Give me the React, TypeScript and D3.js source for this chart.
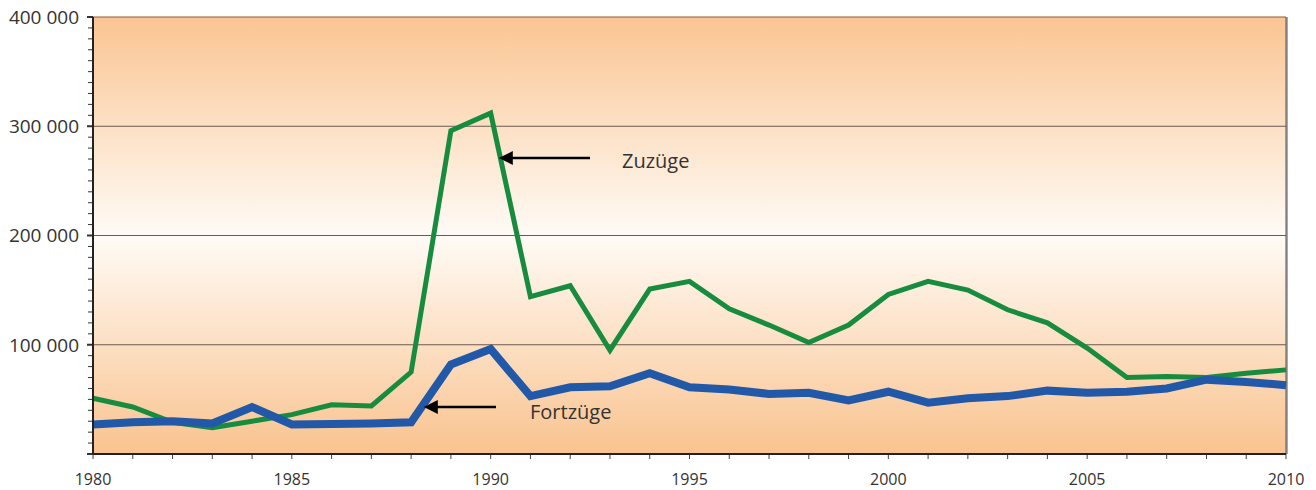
import { line, range, scaleLinear } from 'd3';

const years: number[] = range(1980, 2011);

const zuzuege: number[] = [
  51000, 43000, 29000, 24000, 30000, 36000, 45000, 44000, 75000, 296000,
  312000, 144000, 154000, 95000, 151000, 158000, 133000, 118000, 102000, 118000,
  146000, 158000, 150000, 132000, 120000, 97000, 70000, 71000, 70000, 74000, 77000,
];

const fortzuege: number[] = [
  27000, 29000, 30000, 28000, 43000, 27000, 27500, 28000, 29000, 82000,
  96000, 53000, 61000, 62000, 74000, 61000, 59000, 55000, 56000, 49000,
  57000, 47000, 51000, 53000, 58000, 56000, 57000, 60000, 68000, 66000, 63000,
];

const yTicks: number[] = [0, 100000, 200000, 300000, 400000];
const xLabels: number[] = [1980, 1985, 1990, 1995, 2000, 2005, 2010];

const fmt = (v: number) => (v === 0 ? '' : `${v / 1000} 000`);

export default function App() {
  const W = 1316;
  const H = 490;
  const left = 93;
  const right = 1286;
  const top = 17;
  const bottom = 454;

  const x = scaleLinear().domain([1980, 2010]).range([left, right]);
  const y = scaleLinear().domain([0, 400000]).range([bottom, top]);

  const path = (vals: number[]) =>
    line<number>()
      .x((_, i) => x(years[i]))
      .y((d) => y(d))(vals) ?? '';

  const minor = range(0, 400001, 10000);

  return (
    <svg
      width={W}
      height={H}
      style={{ position: 'absolute', left: 0, top: 0, fontFamily: 'Open Sans, sans-serif' }}
    >
      <defs>
        <linearGradient id="bg" x1="0" y1="0" x2="0" y2="1">
          <stop offset="0%" stopColor="#FAC592" />
          <stop offset="50%" stopColor="#FFFBF6" />
          <stop offset="100%" stopColor="#F9C38F" />
        </linearGradient>
        <marker
          id="arr"
          viewBox="0 0 10 10"
          refX="2"
          refY="5"
          markerWidth="15"
          markerHeight="14"
          markerUnits="userSpaceOnUse"
          orient="auto"
        >
          <path d="M0,0 L10,5 L0,10 z" fill="#000" />
        </marker>
      </defs>
      <rect x={left} y={top} width={right - left} height={bottom - top} fill="url(#bg)" />
      <line x1={left} x2={right} y1={top} y2={top} stroke="#8a5a30" strokeWidth={1} />
      <line x1={right + 1} x2={right + 1} y1={top} y2={bottom} stroke="#aaa" strokeWidth={2} />
      <line x1={right} x2={right} y1={top} y2={bottom} stroke="#555" strokeWidth={1} />

      {yTicks
        .filter((t) => t > 0 && t < 400000)
        .map((t) => (
          <line key={`g${t}`} x1={left} x2={right} y1={y(t)} y2={y(t)} stroke="#6b5a50" strokeWidth={1} />
        ))}

      {minor.map((t) => (
        <line
          key={`m${t}`}
          x1={left - (t % 100000 === 0 ? 6 : 5)}
          x2={left}
          y1={y(t)}
          y2={y(t)}
          stroke="#333"
          strokeWidth={t % 100000 === 0 ? 2 : 1}
        />
      ))}
      {years.map((yr) => (
        <line key={`xt${yr}`} x1={x(yr)} x2={x(yr)} y1={bottom} y2={bottom + 5} stroke="#444" strokeWidth={1} />
      ))}

      <path d={path(zuzuege)} fill="none" stroke="#178C3E" strokeWidth={5} strokeLinejoin="miter" />
      <path d={path(fortzuege)} fill="none" stroke="#2158A8" strokeWidth={8} strokeLinejoin="miter" />

      <line x1={left} x2={left} y1={top} y2={bottom} stroke="#222" strokeWidth={2} />
      <line x1={left} x2={right} y1={bottom} y2={bottom} stroke="#222" strokeWidth={2} />

      {yTicks.map((t) => (
        <text key={`yl${t}`} x={79} y={y(t)} dy="0.36em" textAnchor="end" fontSize={19} fill="#333">
          {fmt(t)}
        </text>
      ))}
      {xLabels.map((yr) => (
        <text key={`xl${yr}`} x={x(yr)} y={485} textAnchor="middle" fontSize={16} fill="#333">
          {yr}
        </text>
      ))}

      <line x1={590} x2={510} y1={158} y2={158} stroke="#000" strokeWidth={2.5} markerEnd="url(#arr)" />
      <text x={622} y={168} fontSize={20} fill="#333">
        Zuzüge
      </text>
      <line x1={496} x2={435} y1={407} y2={407} stroke="#000" strokeWidth={2.5} markerEnd="url(#arr)" />
      <text x={530} y={419} fontSize={20} fill="#333">
        Fortzüge
      </text>
    </svg>
  );
}
